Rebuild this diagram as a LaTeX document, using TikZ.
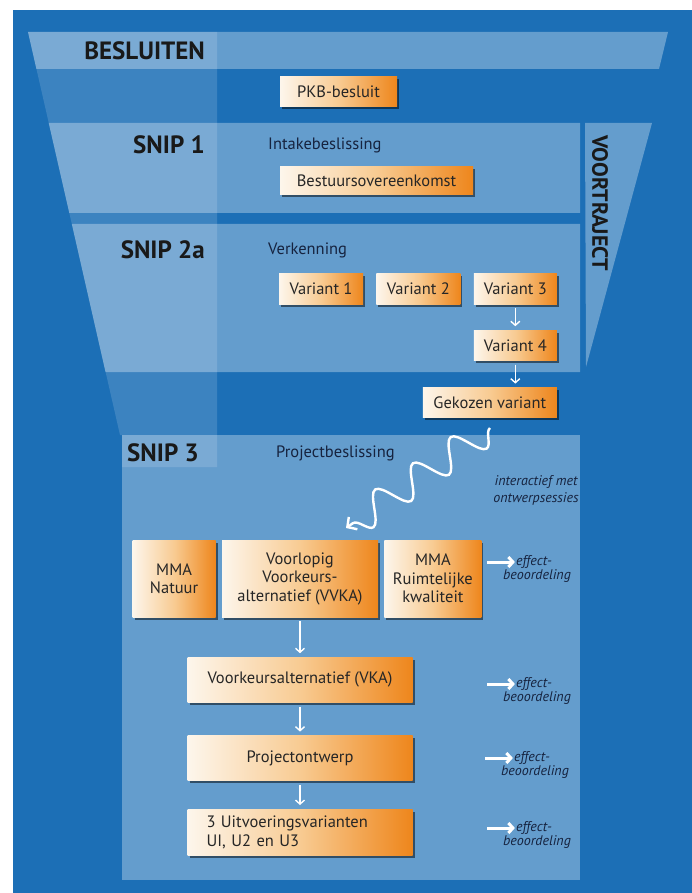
\documentclass[tikz,border=0pt]{standalone}
\usepackage{fontspec}
\setmainfont{PT Sans}
\usetikzlibrary{positioning, shadows, arrows.meta, decorations.pathmorphing}

\definecolor{bgblue}{HTML}{1C6FB6}
\definecolor{boxcream}{HTML}{FDF6EC}
\definecolor{boxmid}{HTML}{F8CB92}
\definecolor{boxorange}{HTML}{EE861C}
\definecolor{boxink}{HTML}{262626}
\definecolor{navyink}{HTML}{16233F}

\newcommand{\boxfont}{\fontsize{16.5}{18.5}\selectfont}
\newcommand{\hdrfont}{\fontsize{25}{27}\selectfont\bfseries}
\newcommand{\phasefont}{\fontsize{16.5}{18.5}\selectfont}
\newcommand{\notefont}{\fontsize{14}{17}\selectfont\itshape}

\begin{document}
\begin{tikzpicture}[x=1pt, y=-1pt,
	band/.style={fill=white, fill opacity=0.32},
	column/.style={fill=white, fill opacity=0.14},
	hdr/.style={text=black!90, font=\hdrfont, inner sep=0pt},
	phase/.style={text=navyink, font=\phasefont, inner sep=0pt, anchor=west},
	box/.style={left color=boxcream, right color=boxorange, middle color=boxmid,
		text=boxink, font=\boxfont, inner sep=0pt, minimum height=30pt, align=center,
		drop shadow={shadow xshift=2pt, shadow yshift=-2.5pt, opacity=0.5, fill=black}},
	down/.style={white, line width=1.4pt, -{Straight Barb[length=4pt, width=9pt]},
		shorten <=4pt, shorten >=4pt},
	effarr/.style={white, line width=3pt, -{Straight Barb[length=4.5pt, width=10pt]}},
	note/.style={text=navyink, font=\notefont, inner sep=1pt, align=center},
	wave/.style={white, line width=2.4pt, decorate,
		decoration={snake, amplitude=15pt, segment length=46pt, post length=6pt},
		-{Straight Barb[length=7pt, width=15pt]}}
	]
	\fill[white] (0,0) rectangle (692,893);
	\useasboundingbox (0,0) rectangle (692,893);
	\fill[bgblue] (13,10) rectangle (692,893);

	\fill[column] (28,32) -- (217,32) -- (217,467) -- (122,467) -- (122,435) -- (120,435) -- cycle;
	\fill[band] (28,32) -- (668,32) -- (659,69) -- (36.4,69) -- cycle;
	\fill[band] (48.7,123) -- (580,123) -- (580,213) -- (69.3,213) -- cycle;
	\fill[band] (71.8,224) -- (580,224) -- (580,372) -- (105.5,372) -- cycle;
	\fill[band] (122,435) rectangle (580,880);
	\fill[band] (585,123) -- (652,123) -- (586,367) -- cycle;

	\node[hdr, anchor=east] (besl) at (205,51) {BESLUITEN};
	\node[hdr, anchor=east] (snip1) at (205,145) {SNIP 1};
	\node[hdr, anchor=east] (snip2) at (205,250) {SNIP 2a};
	\node[hdr, anchor=west] (snip3) at (127,453) {SNIP 3};
	\node[hdr, rotate=-90, font=\fontsize{22}{24}\selectfont\bfseries] (vtr) at (600,203) {VOORTRAJECT};

	\node[phase] (intake) at (268,145) {Intakebeslissing};
	\node[phase] (verk) at (268,250) {Verkenning};
	\node[phase] (projb) at (276,453) {Projectbeslissing};

	\node[box, minimum width=117pt] (pkb) at (338.5,92) {PKB-besluit};
	\node[box, minimum width=193pt, minimum height=28pt] (bso) at (376.5,181) {Bestuursovereenkomst};

	\node[box, minimum width=84pt, minimum height=31pt] (v1) at (321,288.5) {Variant 1};
	\node[box, minimum width=84pt, minimum height=31pt, right=13pt of v1] (v2) {Variant 2};
	\node[box, minimum width=83pt, minimum height=31pt, right=13pt of v2] (v3) {Variant 3};
	\node[box, minimum width=83pt, below=26pt of v3] (v4) {Variant 4};
	\node[box, minimum width=134pt, below=27pt of v4.south east, anchor=north east] (gek) {Gekozen variant};

	\node[box, minimum width=156pt, minimum height=77pt] (vvka) at (300,578.5) {Voorlopig\\Voorkeurs-\\alternatief (VVKA)};
	\node[box, minimum width=83pt, minimum height=77pt, left=6pt of vvka] (mman) {MMA\\Natuur};
	\node[box, minimum width=97pt, minimum height=77pt, right=6pt of vvka] (mmar) {MMA\\Ruimtelijke\\kwaliteit};
	\node[box, minimum width=225pt, minimum height=45pt, below=40pt of vvka] (vka) {Voorkeursalternatief (VKA)};
	\node[box, minimum width=225pt, minimum height=45pt, below=33pt of vka] (pro) {Projectontwerp};
	\node[box, minimum width=225pt, minimum height=46pt, below=28pt of pro,
		text width=187pt, inner xsep=19pt, align=left] (uit) {3 Uitvoeringsvarianten\\UI, U2 en U3};

	\node[note, anchor=north] (inter) at (536,474) {interactief met\\ontwerpsessies};

	\node[note] (ef1) at (534,562) {effect-};
	\node[note, below=-1pt of ef1, xshift=3pt] (bo1) {beoordeling};
	\node[note] (ef2) at (534,684) {effect-};
	\node[note, below=-1pt of ef2, xshift=3pt] (bo2) {beoordeling};
	\node[note] (ef3) at (532,758) {effect-};
	\node[note, below=-1pt of ef3, xshift=3pt] (bo3) {beoordeling};
	\node[note] (ef4) at (534,828) {effect-};
	\node[note, below=-1pt of ef4, xshift=3pt] (bo4) {beoordeling};
	\coordinate (ea1) at (487,562);
	\coordinate (ea2) at (487,684);
	\coordinate (ea3) at (485,758);
	\coordinate (ea4) at (487,828);

	\coordinate (ws) at (490,428);
	\coordinate (wt) at (346,528);

	\draw[down] (v3) -- (v4);
	\draw[down] (v4.south) -- (v4.south |- gek.north);
	\draw[down] (vvka) -- (vka);
	\draw[down] (vka) -- (pro);
	\draw[down] (pro) -- (uit);
	\draw[effarr] (ea1) -- (ef1.west);
	\draw[effarr] (ea2) -- (ef2.west);
	\draw[effarr] (ea3) -- (ef3.west);
	\draw[effarr] (ea4) -- (ef4.west);
	\draw[wave] (ws) -- (wt);
\end{tikzpicture}
\end{document}
